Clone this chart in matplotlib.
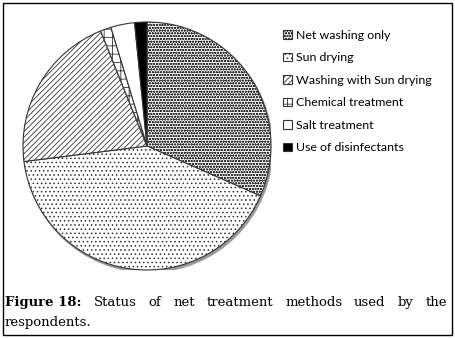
import matplotlib.pyplot as plt
from matplotlib.patches import Rectangle, Circle

# data (share in %)
labels = ['Net washing only', 'Sun drying', 'Washing with Sun drying',
          'Chemical treatment', 'Salt treatment', 'Use of disinfectants']
shares = [31.6, 41.4, 20.9, 1.4, 3.1, 1.6]
hatches = ['oooooo', '....', '//////', '--||', '', '']
fills = ['white', 'white', 'white', 'white', 'white', 'black']

caption_bold = 'Figure 18:'
caption_words = ['Status', 'of', 'net', 'treatment', 'methods', 'used', 'by', 'the']
caption_line2 = 'respondents.'

plt.rcParams['hatch.linewidth'] = 0.6
plt.rcParams['font.family'] = ['Lato', 'DejaVu Sans']

W, H = 455, 338
fig = plt.figure(figsize=(W / 100, H / 100), dpi=100)

# outer frame
fig.add_artist(Rectangle((3 / W, 3 / H), 449 / W, 332 / H, transform=fig.transFigure,
                         fill=False, edgecolor='black', linewidth=1.0))

# pie axes: centre ~ (147,146) px, radius ~124 px
cx, cy, r = 147, 146, 124
ax = fig.add_axes([(cx - r) / W, (H - cy - r) / H, 2 * r / W, 2 * r / H])

# soft shadow
ax.add_patch(Circle((0.012, -0.018), 1.0, color='#9a9a9a', zorder=0))

wedges, _ = ax.pie(shares, startangle=90, counterclock=False, colors=fills,
                   wedgeprops=dict(edgecolor='#333333', linewidth=0.8))
for w, h in zip(wedges, hatches):
    w.set_hatch(h)
    w.set_zorder(1)
ax.set_xlim(-1.0, 1.0)
ax.set_ylim(-1.0, 1.0)
ax.set_aspect('equal')
ax.axis('off')

fig.legend(wedges, labels, loc='upper left', bbox_to_anchor=(278 / W, 1 - 25 / H),
           frameon=False, fontsize=8.9, handlelength=0.7, handleheight=0.7,
           handletextpad=0.35, labelspacing=0.93, borderaxespad=0)

# justified caption, first line from x=5 to x=447
renderer = fig.canvas.get_renderer()
serif = ['DejaVu Serif']
fs = 9.5
y1 = 1 - 306 / H
y2 = 1 - 326 / H
texts = [fig.text(0, y1, caption_bold, fontsize=fs, fontweight='bold', family=serif)]
for wd in caption_words:
    texts.append(fig.text(0, y1, wd, fontsize=fs, family=serif))
widths = [t.get_window_extent(renderer).width for t in texts]
x0, x1 = 5, 447
gap = (x1 - x0 - sum(widths)) / (len(texts) - 1)
x = x0
for t, wdt in zip(texts, widths):
    t.set_x(x / W)
    x += wdt + gap
fig.text(5 / W, y2, caption_line2, fontsize=fs, family=serif)

fig.savefig('out.png', dpi=100)
